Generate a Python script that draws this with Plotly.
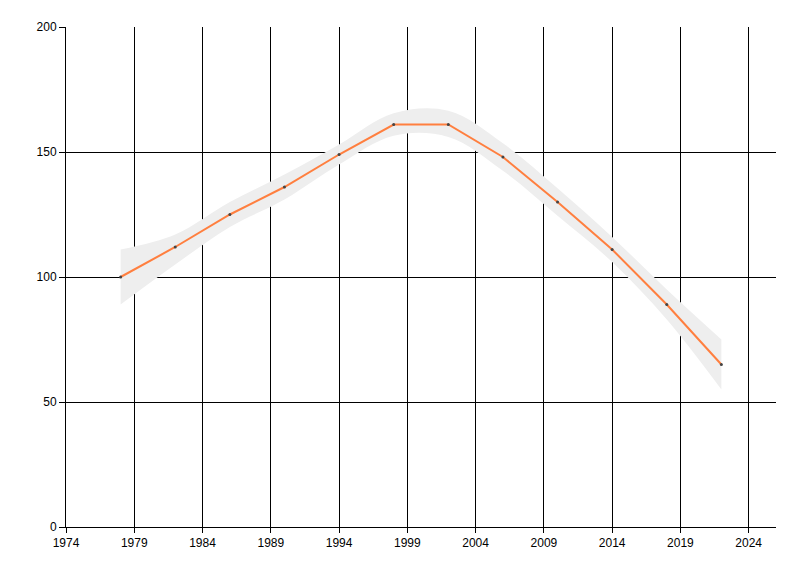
import plotly.graph_objects as go

years = [1978, 1982, 1986, 1990, 1994, 1998, 2002, 2006, 2010, 2014, 2018, 2022]
values = [100, 112, 125, 136, 149, 161, 161, 148, 130, 111, 89, 65]
band_upper = [111, 117, 130, 141, 153, 165.5, 166.5, 153.5, 135.5, 116, 95, 75]
band_lower = [89, 105, 120, 131, 145, 156.5, 156, 142.5, 124.5, 106, 83, 55]
x_ticks = [1974, 1979, 1984, 1989, 1994, 1999, 2004, 2009, 2014, 2019, 2024]
y_ticks = [0, 50, 100, 150, 200]

fig = go.Figure()
fig.add_trace(go.Scatter(x=years, y=band_lower, mode="lines",
                         line=dict(width=0, shape="spline", smoothing=1),
                         hoverinfo="skip", showlegend=False))
fig.add_trace(go.Scatter(x=years, y=band_upper, mode="lines",
                         line=dict(width=0, shape="spline", smoothing=1),
                         fill="tonexty", fillcolor="#EEEEEE",
                         hoverinfo="skip", showlegend=False))
fig.add_trace(go.Scatter(x=years, y=values, mode="lines+markers",
                         line=dict(color="#FF7F3F", width=2),
                         marker=dict(color="#444444", size=3),
                         showlegend=False))

fig.update_layout(
    width=800, height=576,
    margin=dict(l=58, r=32, t=19, b=57),
    paper_bgcolor="white", plot_bgcolor="white",
    font=dict(family="Liberation Sans, Arial, sans-serif", size=12, color="black"),
    showlegend=False,
)
fig.update_xaxes(range=[1974, 2026], tickvals=x_ticks, ticktext=[str(t) for t in x_ticks],
                 showgrid=True, gridcolor="black", gridwidth=1,
                 showline=True, linecolor="black", linewidth=1,
                 ticks="outside", ticklen=5, tickcolor="black", zeroline=False)
fig.update_yaxes(range=[0, 200], tickvals=y_ticks,
                 showgrid=True, gridcolor="black", gridwidth=1,
                 showline=True, linecolor="black", linewidth=1,
                 ticks="outside", ticklen=6, tickcolor="black", zeroline=False)

fig.write_html("out.html")
